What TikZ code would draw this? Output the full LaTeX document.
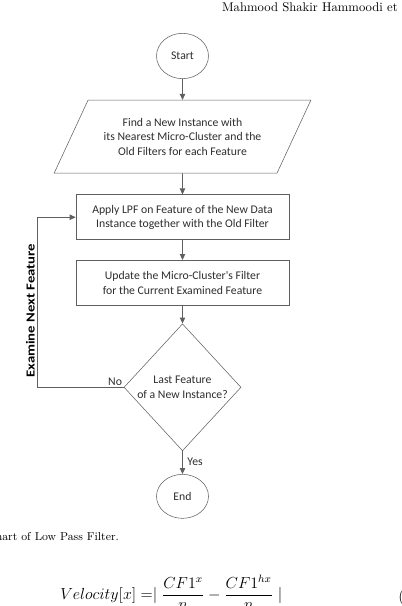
\documentclass[tikz,border=0pt]{standalone}
\usepackage{fontspec}
\usepackage{graphicx}
\newfontfamily\flowfont{Carlito}
\usepackage{tikz}
\usetikzlibrary{arrows.meta, positioning, shapes.geometric}

\definecolor{flowline}{RGB}{95,95,95}
\definecolor{flowtext}{RGB}{45,45,45}

\begin{document}
\begin{tikzpicture}[
x=0.75pt, y=-0.75pt,
every node/.style={
text=flowtext,
align=center,
font=\flowfont\fontsize{8.8}{10.8}\selectfont
},
terminal/.style={
draw=flowline,
ellipse,
minimum width=39pt,
minimum height=34pt,
inner sep=0pt
},
process/.style={
draw=flowline,
rectangle,
minimum width=159.75pt,
minimum height=33.75pt
},
io/.style={
draw=flowline,
trapezium,
trapezium left angle=57,
trapezium right angle=123,
trapezium stretches=true,
minimum width=192.75pt,
minimum height=54.75pt
},
decision/.style={
draw=flowline,
diamond,
minimum width=87.75pt,
minimum height=95.25pt,
inner sep=0pt
},
paper/.style={text=black, font=\fontsize{9.5}{11}\selectfont, inner sep=0pt},
arrow/.style={-{Triangle[length=4.5pt,width=4pt]}, draw=flowline, line width=0.7pt},
node distance=15.75pt
]

\useasboundingbox (0,0) rectangle (402,606);
\clip (0,0) rectangle (402,606);

% ------------------------
% Page text around the figure
% ------------------------
\node[paper, anchor=base east] (runhead) at (398,12) {Mahmood Shakir Hammoodi et};

% ------------------------
% Flowchart
% ------------------------
\node[terminal] (start) at (182.5,56) {Start};

\node[io, below=of start] (find)
{Find a New Instance with\\its Nearest Micro-Cluster and the\\Old Filters for each Feature};

\node[process, below=of find] (apply)
{Apply LPF on Feature of the New Data\\Instance together with the Old Filter};

\node[process, below=15pt of apply] (update)
{Update the Micro-Cluster's Filter\\for the Current Examined Feature};

\node[decision, below=13.5pt of update] (dec) {};

% Content inside the decision
\node at (dec.center) (dectext) {Last Feature\\of a New Instance?};

\node[terminal, minimum height=33pt, below=17.25pt of dec] (end) {End};

% ------------------------
% Arrows
% ------------------------
\draw[arrow] (start) -- (find);
\draw[arrow] (find) -- (apply);
\draw[arrow] (apply) -- (update);
\draw[arrow] (update) -- (dec);
\draw[arrow] (dec) -- node[right, pos=0.45] (yes) {Yes} (end);

% Loop back
\coordinate (loop) at ([xshift=-64.5pt]dec.west);
\draw[arrow] (dec.west) -- node[pos=0, above left, inner sep=1pt] (no) {No} (loop)
-- node[pos=0.45, sloped, above, inner sep=2pt, text=black, font=\flowfont\bfseries\fontsize{9.2}{10}\selectfont] (examine) {\scalebox{1.2}[1]{Examine Next Feature}} (loop |- apply.west)
-- (apply.west);

% ------------------------
% Caption and formula
% ------------------------
\node[paper, anchor=base west, font=\fontsize{8.6}{10}\selectfont] (caption) at (-4.5,540) {hart of Low Pass Filter.};

\node[paper, anchor=base west, font=\fontsize{11.6}{14}\selectfont] (velocity) at (60,599)
{$\displaystyle Velocity[x] =\mid \frac{CF1^{x}}{n} - \frac{CF1^{hx}}{n} \mid$};

\node[paper, anchor=base west, font=\fontsize{11.6}{14}\selectfont] (eqno) at (398,601) {(};

\end{tikzpicture}
\end{document}
